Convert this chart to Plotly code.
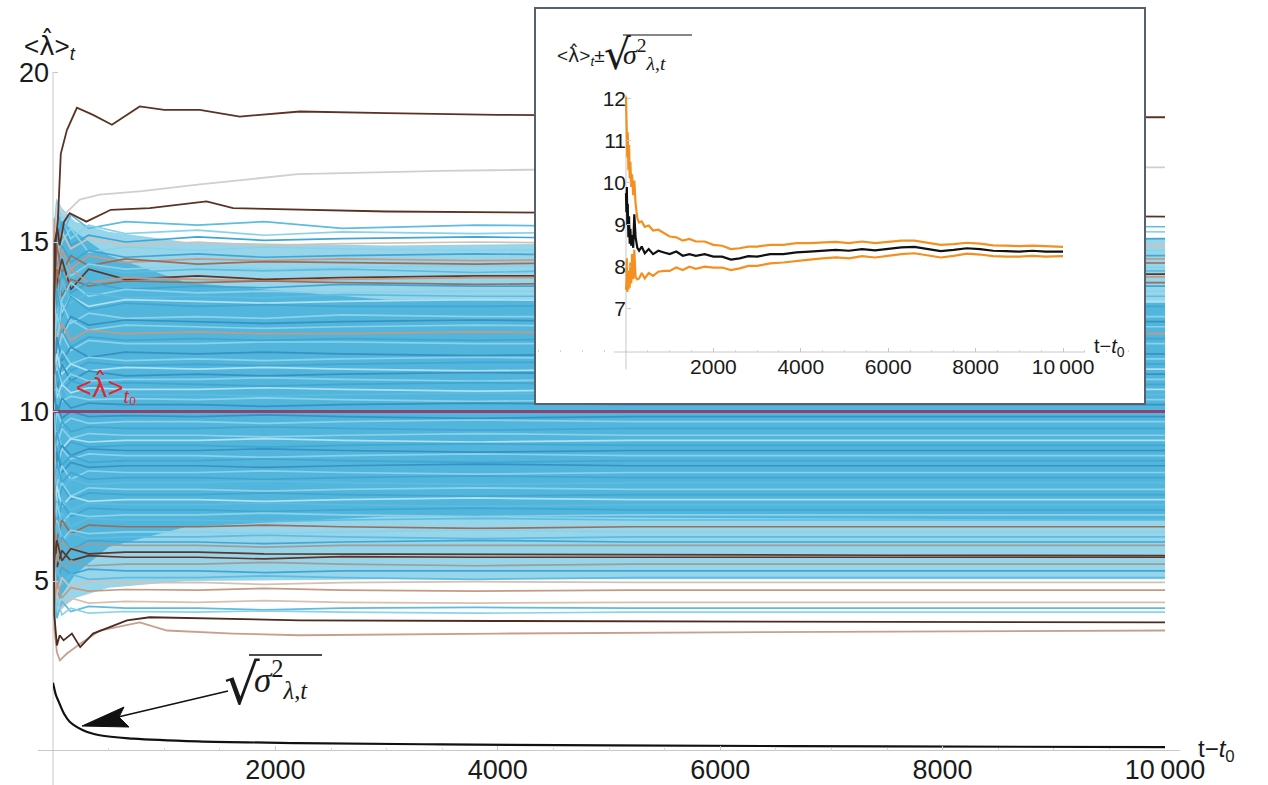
import plotly.graph_objects as go

W, H = 1268, 785

# ---------------- main panel data ----------------
x_tickvals = [2000, 4000, 6000, 8000, 10000]
x_ticklabels = ["2000", "4000", "6000", "8000", "10\u2009000"]
y_tickvals = [5, 10, 15, 20]
y_ticklabels = ["5", "10", "15", "20"]

T_BUNDLE = [0, 12, 35, 80, 160, 320, 650, 1300, 1900, 2600, 3800, 5200, 7500, 10000]

paths_upper = [
    [10, 14.2, 15.9, 15.2, 15.8, 15.4, 15.6, 15.5, 15.6, 15.4, 15.5, 15.45, 15.5, 15.45],
    [10, 15.3, 16.2, 15.6, 15.1, 15.5, 15.25, 15.35, 15.2, 15.3, 15.25, 15.3, 15.35, 15.3],
    [10, 13.1, 15.0, 15.6, 14.9, 15.2, 15.0, 15.15, 15.05, 15.1, 15.15, 15.1, 15.05, 15.1],
    [10, 13.6, 14.6, 15.3, 14.8, 15.1, 14.9, 15.0, 14.9, 14.95, 15.0, 14.95, 14.9, 14.9],
    [10, 12.8, 14.3, 15.0, 15.4, 14.7, 14.85, 14.75, 14.85, 14.8, 14.75, 14.8, 14.8, 14.75],
    [10, 15.0, 14.2, 14.9, 14.4, 14.75, 14.55, 14.65, 14.55, 14.6, 14.65, 14.6, 14.6, 14.6],
    [10, 15.7, 14.0, 14.8, 14.2, 14.6, 14.4, 14.5, 14.45, 14.5, 14.45, 14.5, 14.5, 14.5],
    [10, 13.2, 14.9, 14.1, 14.6, 14.3, 14.5, 14.35, 14.42, 14.4, 14.35, 14.4, 14.4, 14.38],
    [10, 14.1, 13.4, 14.5, 14.0, 14.35, 14.2, 14.3, 14.2, 14.25, 14.3, 14.25, 14.25, 14.25],
    [10, 14.8, 13.5, 14.6, 13.9, 14.3, 14.1, 14.2, 14.15, 14.2, 14.1, 14.2, 14.15, 14.15],
    [10, 12.5, 13.8, 14.5, 13.6, 14.2, 13.9, 14.0, 13.9, 13.95, 14.0, 14.0, 14.05, 14.05],
    [10, 14.6, 13.2, 13.7, 14.2, 13.8, 13.95, 13.9, 13.85, 13.9, 13.95, 13.95, 13.97, 13.97],
    [10, 13.0, 14.2, 13.4, 13.9, 13.7, 13.85, 13.8, 13.85, 13.8, 13.75, 13.8, 13.8, 13.8],
    [10, 11.8, 13.0, 14.1, 13.5, 13.8, 13.6, 13.7, 13.65, 13.75, 13.7, 13.7, 13.7, 13.7],
    [10, 13.9, 12.9, 13.3, 13.8, 13.4, 13.6, 13.5, 13.55, 13.5, 13.55, 13.55, 13.55, 13.55],
    [10, 14.0, 12.6, 13.9, 13.2, 13.5, 13.35, 13.4, 13.35, 13.45, 13.4, 13.4, 13.4, 13.4],
    [10, 12.4, 13.6, 12.9, 13.4, 13.1, 13.3, 13.25, 13.2, 13.25, 13.3, 13.25, 13.25, 13.25],
    [10, 12.2, 13.6, 12.8, 13.4, 13.0, 13.2, 13.1, 13.15, 13.1, 13.1, 13.15, 13.1, 13.1],
    [10, 13.5, 12.0, 13.2, 12.6, 12.9, 12.75, 12.8, 12.75, 12.85, 12.8, 12.8, 12.8, 12.8],
    [10, 11.6, 12.9, 12.3, 12.8, 12.55, 12.7, 12.65, 12.6, 12.65, 12.7, 12.65, 12.65, 12.65],
    [10, 11.5, 12.9, 12.2, 12.7, 12.4, 12.55, 12.5, 12.45, 12.5, 12.55, 12.5, 12.5, 12.5],
    [10, 12.8, 11.9, 12.6, 12.1, 12.4, 12.3, 12.35, 12.3, 12.3, 12.35, 12.3, 12.3, 12.3],
    [10, 12.9, 11.8, 12.4, 11.9, 12.2, 12.1, 12.15, 12.1, 12.15, 12.1, 12.15, 12.15, 12.15],
    [10, 13.0, 11.6, 12.3, 11.8, 12.1, 12.0, 12.0, 12.05, 12.05, 12.0, 12.0, 12.0, 12.0],
    [10, 10.8, 12.2, 11.5, 11.9, 11.6, 11.75, 11.7, 11.75, 11.7, 11.65, 11.7, 11.7, 11.7],
    [10, 12.0, 11.2, 11.8, 11.4, 11.6, 11.5, 11.55, 11.5, 11.55, 11.6, 11.55, 11.55, 11.55],
    [10, 12.1, 11.0, 11.7, 11.2, 11.45, 11.35, 11.4, 11.35, 11.4, 11.45, 11.45, 11.4, 11.4],
    [10, 11.0, 11.7, 11.1, 11.4, 11.2, 11.3, 11.25, 11.3, 11.25, 11.2, 11.25, 11.25, 11.25],
    [10, 11.5, 10.6, 11.4, 10.9, 11.2, 11.05, 11.1, 11.05, 11.1, 11.15, 11.1, 11.1, 11.1],
    [10, 10.5, 11.3, 10.8, 11.1, 10.9, 10.95, 10.95, 11.0, 10.95, 10.9, 10.95, 10.95, 10.95],
    [10, 10.4, 11.2, 10.6, 10.9, 10.75, 10.85, 10.8, 10.75, 10.8, 10.85, 10.8, 10.8, 10.8],
    [10, 11.1, 10.4, 10.8, 10.55, 10.7, 10.65, 10.65, 10.7, 10.65, 10.6, 10.65, 10.65, 10.65],
    [10, 11.0, 10.2, 10.7, 10.4, 10.55, 10.5, 10.5, 10.45, 10.5, 10.55, 10.5, 10.5, 10.5],
    [10, 10.2, 10.7, 10.3, 10.45, 10.35, 10.38, 10.35, 10.4, 10.35, 10.3, 10.35, 10.35, 10.35],
    [10, 10.6, 9.9, 10.4, 10.1, 10.25, 10.2, 10.2, 10.15, 10.2, 10.25, 10.2, 10.2, 10.2],
]
colors_upper = [
    "B2", "B3", "B1", "T2", "B3", "B1", "T1", "BR2", "B3", "B2", "BR", "T1",
    "BR2", "B1", "B3", "B2", "B4", "B1", "B3", "B5", "B3", "T1", "B1", "B3",
    "B5", "B3", "B1", "B4", "B5", "B3", "B1", "B4", "B2", "B3", "B5",
]

paths_lower = [
    [10, 9.6, 10.2, 9.8, 10.0, 9.85, 9.88, 9.85, 9.9, 9.85, 9.8, 9.85, 9.85, 9.85],
    [10, 9.4, 10.0, 9.6, 9.8, 9.65, 9.7, 9.7, 9.65, 9.7, 9.75, 9.7, 9.7, 9.7],
    [10, 9.9, 9.2, 9.7, 9.4, 9.55, 9.5, 9.5, 9.55, 9.5, 9.45, 9.5, 9.5, 9.5],
    [10, 9.8, 9.0, 9.5, 9.2, 9.35, 9.3, 9.3, 9.25, 9.3, 9.35, 9.3, 9.3, 9.3],
    [10, 8.7, 9.4, 8.9, 9.2, 9.1, 9.15, 9.15, 9.2, 9.15, 9.1, 9.15, 9.15, 9.15],
    [10, 8.6, 9.4, 8.8, 9.1, 8.95, 9.0, 9.0, 8.95, 9.0, 9.05, 9.0, 9.0, 9.0],
    [10, 9.3, 8.5, 9.0, 8.7, 8.9, 8.85, 8.85, 8.9, 8.85, 8.8, 8.85, 8.85, 8.85],
    [10, 9.2, 8.3, 8.9, 8.6, 8.75, 8.7, 8.7, 8.65, 8.7, 8.75, 8.7, 8.7, 8.7],
    [10, 8.1, 8.9, 8.4, 8.7, 8.5, 8.55, 8.55, 8.6, 8.55, 8.5, 8.55, 8.55, 8.55],
    [10, 8.0, 8.8, 8.2, 8.5, 8.35, 8.4, 8.4, 8.35, 8.4, 8.45, 8.4, 8.4, 8.4],
    [10, 8.9, 7.8, 8.4, 8.0, 8.25, 8.2, 8.2, 8.25, 8.2, 8.15, 8.2, 8.2, 8.2],
    [10, 7.6, 8.5, 7.9, 8.2, 8.0, 8.05, 8.05, 8.0, 8.05, 8.1, 8.05, 8.05, 8.05],
    [10, 7.4, 8.3, 7.7, 8.0, 7.85, 7.9, 7.9, 7.95, 7.9, 7.85, 7.9, 7.9, 7.9],
    [10, 8.2, 7.3, 7.9, 7.5, 7.75, 7.7, 7.7, 7.65, 7.7, 7.75, 7.7, 7.7, 7.7],
    [10, 8.0, 7.1, 7.8, 7.4, 7.6, 7.55, 7.55, 7.6, 7.55, 7.5, 7.55, 7.55, 7.55],
    [10, 6.9, 7.8, 7.2, 7.5, 7.35, 7.4, 7.4, 7.35, 7.4, 7.45, 7.4, 7.4, 7.4],
    [10, 7.6, 6.8, 7.4, 7.1, 7.3, 7.25, 7.25, 7.3, 7.25, 7.2, 7.25, 7.25, 7.25],
    [10, 7.6, 6.7, 7.3, 6.9, 7.15, 7.1, 7.1, 7.05, 7.1, 7.15, 7.1, 7.1, 7.1],
    [10, 6.4, 7.3, 6.7, 7.0, 6.9, 6.95, 6.95, 7.0, 6.95, 6.9, 6.95, 6.95, 6.95],
    [10, 7.2, 6.3, 7.0, 6.6, 6.85, 6.8, 6.8, 6.75, 6.8, 6.85, 6.8, 6.8, 6.8],
    [10, 7.0, 6.2, 6.8, 6.4, 6.65, 6.6, 6.6, 6.65, 6.6, 6.55, 6.6, 6.6, 6.6],
    [10, 5.9, 6.8, 6.2, 6.5, 6.4, 6.45, 6.45, 6.4, 6.45, 6.5, 6.45, 6.45, 6.45],
    [10, 5.8, 6.7, 6.1, 6.4, 6.25, 6.3, 6.3, 6.35, 6.3, 6.25, 6.3, 6.3, 6.3],
    [10, 6.6, 5.7, 6.3, 5.9, 6.2, 6.15, 6.15, 6.1, 6.15, 6.2, 6.15, 6.15, 6.15],
    [10, 6.5, 5.7, 6.2, 5.9, 6.1, 6.05, 6.05, 6.0, 6.05, 6.05, 6.05, 6.05, 6.05],
    [10, 5.3, 6.2, 5.6, 5.95, 5.8, 5.85, 5.85, 5.8, 5.8, 5.78, 5.78, 5.76, 5.75],
    [10, 6.2, 5.4, 5.9, 5.6, 5.75, 5.7, 5.7, 5.65, 5.72, 5.7, 5.7, 5.7, 5.7],
    [10, 5.0, 5.8, 5.3, 5.6, 5.45, 5.5, 5.5, 5.55, 5.5, 5.45, 5.5, 5.5, 5.5],
    [10, 5.7, 5.0, 5.4, 5.2, 5.35, 5.3, 5.3, 5.25, 5.3, 5.3, 5.3, 5.3, 5.3],
    [10, 4.7, 5.4, 4.9, 5.2, 5.05, 5.1, 5.1, 5.15, 5.1, 5.05, 5.1, 5.1, 5.1],
    [10, 5.4, 4.6, 5.1, 4.8, 5.0, 4.95, 4.96, 4.9, 4.95, 4.98, 4.96, 4.96, 4.96],
    [10, 4.3, 5.0, 4.5, 4.8, 4.7, 4.75, 4.73, 4.78, 4.73, 4.7, 4.73, 4.73, 4.73],
    [10, 4.0, 4.6, 4.2, 4.5, 4.35, 4.4, 4.37, 4.42, 4.37, 4.35, 4.37, 4.37, 4.37],
    [10, 4.7, 3.9, 4.4, 4.1, 4.25, 4.2, 4.2, 4.15, 4.2, 4.22, 4.2, 4.2, 4.2],
    [10, 3.8, 4.5, 4.0, 4.2, 4.05, 4.1, 4.08, 4.12, 4.08, 4.05, 4.08, 4.08, 4.08],
]
colors_lower = [
    "B5", "B3", "B1", "B3", "B4", "B1", "B5", "B3", "B1", "B5", "B3", "B1",
    "B2", "B3", "B1", "B4", "B2", "B1", "B3", "B2", "BR2", "B3", "B2", "B1",
    "G", "BR", "BR", "G", "B1", "B2", "T2", "T1", "T2", "B2", "B3",
]

palette = {
    "B1": "#42a6d2", "B2": "#5dbce0", "B3": "#8ad2ea", "B4": "#aee0f1",
    "B5": "#3593c2", "T1": "#c49a84", "T2": "#d6c0b2", "BR": "#5e3526",
    "BR2": "#9a6e5a", "G": "#9e9e98",
}

# band envelopes (light outer band, saturated core)
band_t = [0, 8, 30, 80, 200, 500, 1200, 3000, 10000]
outer_top = [10, 15.6, 16.3, 16.0, 15.6, 15.3, 15.0, 14.9, 15.1]
outer_bot = [10, 4.4, 4.0, 4.2, 4.5, 4.8, 5.0, 5.05, 5.05]
core_top = [10, 15.4, 16.0, 15.6, 15.3, 14.6, 13.8, 13.3, 13.2]
core_bot = [10, 4.6, 4.2, 4.6, 5.2, 6.0, 6.6, 6.9, 6.8]

# outlier trajectories
top_brown_t = [0, 10, 25, 45, 70, 125, 215, 360, 530, 780, 1000, 1320, 1680, 2220, 3000, 4000, 6000, 8000, 10000]
top_brown_v = [10, 13.0, 15.0, 15.7, 17.6, 18.3, 18.96, 18.75, 18.46, 19.0, 18.9, 18.9, 18.7, 18.85, 18.8, 18.75, 18.7, 18.7, 18.68]
gray_t = [0, 15, 40, 100, 240, 420, 800, 1320, 2200, 3500, 6000, 10000]
gray_v = [10, 14.5, 16.1, 15.8, 16.25, 16.4, 16.5, 16.7, 17.0, 17.1, 17.2, 17.2]
brown2_t = [0, 15, 40, 60, 100, 150, 300, 520, 870, 1380, 1620, 2220, 3000, 5000, 8000, 10000]
brown2_v = [10, 15.0, 15.4, 14.9, 15.6, 15.85, 15.6, 15.95, 16.0, 16.2, 16.0, 15.95, 15.9, 15.85, 15.8, 15.75]
low_brown_t = [0, 12, 35, 60, 95, 170, 245, 360, 510, 665, 870, 1320, 2220, 4000, 7000, 10000]
low_brown_v = [10, 4.0, 3.1, 3.4, 3.25, 3.45, 3.05, 3.45, 3.64, 3.84, 3.93, 3.9, 3.84, 3.82, 3.8, 3.78]
low_tan_t = [0, 12, 35, 62, 125, 245, 420, 780, 1025, 1620, 2220, 4000, 7000, 10000]
low_tan_v = [10, 3.6, 2.9, 2.66, 2.86, 3.15, 3.54, 3.78, 3.54, 3.45, 3.4, 3.45, 3.5, 3.54]

ref_t = [0, 10000]
ref_v = [10, 10]

sigma_t = [0, 10, 25, 50, 100, 150, 270, 420, 720, 1300, 2200, 3500, 5000, 7500, 10000]
sigma_v = [2.0, 1.85, 1.65, 1.45, 1.08, 0.85, 0.6, 0.45, 0.35, 0.27, 0.22, 0.18, 0.15, 0.12, 0.1]

# ---------------- inset data ----------------
inset_t = [0, 10, 20, 30, 40, 55, 70, 85, 100, 120, 140, 165, 190, 220, 260, 300, 360, 430, 520, 620,
           740, 870, 1000, 1150, 1300, 1450, 1600, 1800, 2000, 2200, 2400, 2600, 2800, 3000, 3300, 3600,
           3900, 4200, 4500, 4800, 5100, 5400, 5700, 6000, 6300, 6600, 6900, 7200, 7500, 7800, 8100, 8400,
           8700, 9000, 9300, 9600, 10000]
inset_mean = [9.75, 9.3, 9.9, 9.0, 9.5, 8.7, 9.2, 8.55, 8.9, 8.5, 8.75, 8.45, 9.25, 8.7, 8.45, 8.38, 8.48, 8.32, 8.42, 8.3,
              8.38, 8.34, 8.3, 8.36, 8.26, 8.3, 8.26, 8.3, 8.24, 8.24, 8.17, 8.2, 8.25, 8.24, 8.3, 8.3,
              8.34, 8.36, 8.38, 8.4, 8.38, 8.42, 8.39, 8.42, 8.46, 8.47, 8.42, 8.37, 8.4, 8.44, 8.42, 8.38,
              8.37, 8.36, 8.38, 8.36, 8.36]
inset_upper = [12.05, 11.0, 11.6, 10.6, 11.2, 10.3, 10.9, 10.1, 10.5, 9.9, 10.2, 9.7, 10.05, 9.5, 9.15, 9.05, 9.08, 8.95, 8.98, 8.86,
               8.88, 8.8, 8.72, 8.7, 8.62, 8.66, 8.6, 8.6, 8.52, 8.5, 8.42, 8.44, 8.48, 8.48, 8.52, 8.52,
               8.56, 8.56, 8.57, 8.59, 8.56, 8.6, 8.56, 8.59, 8.62, 8.62, 8.57, 8.52, 8.54, 8.57, 8.55, 8.51,
               8.5, 8.49, 8.5, 8.48, 8.47]
inset_lower = [7.45, 7.6, 8.2, 7.4, 7.8, 7.45, 7.9, 7.5, 8.1, 7.6, 8.3, 7.7, 8.4, 7.75, 7.7, 7.72, 7.85, 7.72, 7.85, 7.78,
               7.88, 7.9, 7.9, 7.98, 7.92, 8.0, 7.95, 8.0, 7.98, 7.98, 7.92, 7.96, 8.02, 8.02, 8.08, 8.1,
               8.14, 8.17, 8.2, 8.22, 8.2, 8.25, 8.22, 8.26, 8.3, 8.32, 8.27, 8.22, 8.26, 8.31, 8.29, 8.25,
               8.24, 8.24, 8.26, 8.24, 8.25]
inset_x_tickvals = [2000, 4000, 6000, 8000, 10000]
inset_x_ticklabels = ["2000", "4000", "6000", "8000", "10\u2009000"]
inset_y_tickvals = [7, 8, 9, 10, 11, 12]
inset_y_ticklabels = ["7", "8", "9", "10", "11", "12"]


def fx(p):
    return p / W


def fy(p):
    return 1 - p / H


fig = go.Figure()

fig.add_trace(go.Scatter(x=band_t + band_t[::-1], y=outer_top + outer_bot[::-1], fill="toself",
                         fillcolor="#97d5eb", line=dict(width=0), mode="lines", hoverinfo="skip"))
fig.add_trace(go.Scatter(x=band_t + band_t[::-1], y=core_top + core_bot[::-1], fill="toself",
                         fillcolor="#52b5dc", line=dict(width=0), mode="lines", hoverinfo="skip"))

for path, c in zip(paths_upper + paths_lower, colors_upper + colors_lower):
    fig.add_trace(go.Scatter(x=T_BUNDLE, y=path, mode="lines",
                             line=dict(color=palette[c], width=1.7), hoverinfo="skip"))

for tt, vv, col in [(gray_t, gray_v, "#cfcfcf"), (brown2_t, brown2_v, "#5a3325"),
                    (top_brown_t, top_brown_v, "#5a3325"), (low_tan_t, low_tan_v, "#c7a08c"),
                    (low_brown_t, low_brown_v, "#4a2c20")]:
    fig.add_trace(go.Scatter(x=tt, y=vv, mode="lines", line=dict(color=col, width=1.8), hoverinfo="skip"))

fig.add_trace(go.Scatter(x=ref_t, y=ref_v, mode="lines", line=dict(color="#94406e", width=3), hoverinfo="skip"))
fig.add_trace(go.Scatter(x=sigma_t, y=sigma_v, mode="lines", line=dict(color="#111111", width=2.2),
                         line_shape="spline", hoverinfo="skip"))

fig.add_trace(go.Scatter(x=inset_t, y=inset_upper, mode="lines", line=dict(color="#f39020", width=2.2),
                         xaxis="x2", yaxis="y2", hoverinfo="skip"))
fig.add_trace(go.Scatter(x=inset_t, y=inset_lower, mode="lines", line=dict(color="#f39020", width=2.2),
                         xaxis="x2", yaxis="y2", hoverinfo="skip"))
fig.add_trace(go.Scatter(x=inset_t, y=inset_mean, mode="lines", line=dict(color="#111111", width=2.2),
                         xaxis="x2", yaxis="y2", hoverinfo="skip"))

tickfont_main = dict(size=27, color="#1a1a1a", family="Liberation Sans, Arial, sans-serif")
tickfont_inset = dict(size=21, color="#1a1a1a", family="Liberation Sans, Arial, sans-serif")

fig.update_layout(
    width=W, height=H, margin=dict(l=0, r=0, t=0, b=0),
    paper_bgcolor="white", plot_bgcolor="white", showlegend=False,
    font=dict(family="Liberation Sans, Arial, sans-serif", color="#1a1a1a"),
    xaxis=dict(domain=[fx(53), fx(1165)], range=[0, 10000], showgrid=False, zeroline=False, showline=False,
               tickvals=x_tickvals, ticktext=x_ticklabels, ticks="inside", ticklen=5, tickcolor="#c8c8c8",
               tickfont=tickfont_main, anchor="y", automargin=False,
               minor=dict(dtick=500, ticks="inside", ticklen=3, tickcolor="#d5d5d5")),
    yaxis=dict(domain=[fy(750.5), fy(50)], range=[0, 20.664], showgrid=False, zeroline=False, showline=False,
               tickvals=y_tickvals, ticktext=y_ticklabels, ticks="inside", ticklen=5, tickcolor="#c8c8c8",
               tickfont=tickfont_main, anchor="x", automargin=False, ticklabelstandoff=3),
    xaxis2=dict(domain=[fx(536), fx(1144)], range=[-2059, 11853], anchor="free", position=fy(352),
                showgrid=False, zeroline=False, showline=False, tickvals=inset_x_tickvals,
                ticktext=inset_x_ticklabels, ticks="inside", ticklen=4, tickcolor="#c8c8c8",
                tickfont=tickfont_inset, automargin=False,
                minor=dict(dtick=500, ticks="inside", ticklen=2, tickcolor="#d5d5d5")),
    yaxis2=dict(domain=[fy(403), fy(9)], range=[4.755, 14.136], anchor="free", position=fx(626),
                showgrid=False, zeroline=False, showline=False, tickvals=inset_y_tickvals,
                ticktext=inset_y_ticklabels, ticks="inside", ticklen=4, tickcolor="#c8c8c8",
                tickfont=tickfont_inset, automargin=False),
)

shapes = []
shapes.append(dict(type="line", xref="paper", yref="paper", x0=fx(38), x1=fx(1180), y0=fy(750.5), y1=fy(750.5),
                   line=dict(color="#c8c8c8", width=1), layer="below"))
shapes.append(dict(type="line", xref="paper", yref="paper", x0=fx(53), x1=fx(53), y0=fy(72), y1=0,
                   line=dict(color="#c8c8c8", width=1), layer="below"))
shapes.append(dict(type="line", xref="x2", yref="y2", x0=-280, x1=10500, y0=5.969, y1=5.969,
                   line=dict(color="#c8c8c8", width=1), layer="below"))
shapes.append(dict(type="line", xref="x2", yref="y2", x0=0, x1=0, y0=5.55, y1=12.1,
                   line=dict(color="#c8c8c8", width=1), layer="below"))
shapes.append(dict(type="rect", xref="paper", yref="paper", x0=fx(535), x1=fx(1145), y0=fy(404), y1=fy(8),
                   line=dict(color="#55626e", width=2), fillcolor="rgba(0,0,0,0)", layer="above"))
shapes.append(dict(type="line", xref="paper", yref="paper", x0=fx(118), y0=fy(717), x1=fx(228), y1=fy(691),
                   line=dict(color="#111111", width=1.6), layer="above"))
shapes.append(dict(type="path", xref="paper", yref="paper",
                   path=f"M {fx(82)},{fy(726)} L {fx(124)},{fy(707)} L {fx(119)},{fy(717)} L {fx(129)},{fy(727)} Z",
                   fillcolor="#111111", line=dict(color="#111111", width=1), layer="above"))
shapes.append(dict(type="line", xref="paper", yref="paper", x0=fx(249), x1=fx(322), y0=fy(655), y1=fy(655),
                   line=dict(color="#111111", width=1.5), layer="above"))
shapes.append(dict(type="line", xref="paper", yref="paper", x0=fx(623), x1=fx(692), y0=fy(35), y1=fy(35),
                   line=dict(color="#111111", width=1.2), layer="above"))
fig.update_layout(shapes=shapes)

LAM = "<span style='font-family:DejaVu Sans'>λ̂</span>"
ann = []
ann.append(dict(text=f"&lt;{LAM}&gt;<sub><i>t</i></sub>", x=fx(22), y=fy(46), xref="paper", yref="paper",
                xanchor="left", yanchor="middle", showarrow=False, font=dict(size=26, color="#1a1a1a")))
ann.append(dict(text=f"&lt;{LAM}&gt;<sub><i>t</i>₀</sub>", x=fx(74), y=fy(388), xref="paper", yref="paper",
                xanchor="left", yanchor="middle", showarrow=False, font=dict(size=27, color="#e3262e")))
ann.append(dict(text="t−<i>t</i><sub>0</sub>", x=fx(1196), y=fy(750), xref="paper", yref="paper",
                xanchor="left", yanchor="middle", showarrow=False, font=dict(size=24, color="#1a1a1a")))
ann.append(dict(text="t−<i>t</i><sub>0</sub>", x=fx(1092), y=fy(347), xref="paper", yref="paper",
                xanchor="left", yanchor="middle", showarrow=False, font=dict(size=20, color="#1a1a1a")))
ann.append(dict(text="√", x=fx(222), y=fy(684), xref="paper", yref="paper",
                xanchor="left", yanchor="middle", showarrow=False,
                font=dict(size=56, color="#1a1a1a", family="DejaVu Sans")))
ann.append(dict(text="<i>σ</i><sup>2</sup><sub><i>λ</i>,<i>t</i></sub>", x=fx(252), y=fy(679), xref="paper", yref="paper",
                xanchor="left", yanchor="middle", showarrow=False,
                font=dict(size=35, color="#1a1a1a", family="Liberation Serif")))
ann.append(dict(text=f"&lt;{LAM}&gt;<sub><i>t</i></sub>±", x=fx(555), y=fy(56), xref="paper", yref="paper",
                xanchor="left", yanchor="middle", showarrow=False, font=dict(size=19, color="#1a1a1a")))
ann.append(dict(text="√", x=fx(602), y=fy(55), xref="paper", yref="paper",
                xanchor="left", yanchor="middle", showarrow=False,
                font=dict(size=42, color="#1a1a1a", family="DejaVu Sans")))
ann.append(dict(text="<i>σ</i><sup>2</sup><sub><i>λ</i>,<i>t</i></sub>", x=fx(621), y=fy(55), xref="paper", yref="paper",
                xanchor="left", yanchor="middle", showarrow=False,
                font=dict(size=28, color="#1a1a1a", family="Liberation Serif")))
fig.update_layout(annotations=ann)

fig.write_html("out.html", config={"displayModeBar": False},
               post_script="document.body.style.margin='0px';")
